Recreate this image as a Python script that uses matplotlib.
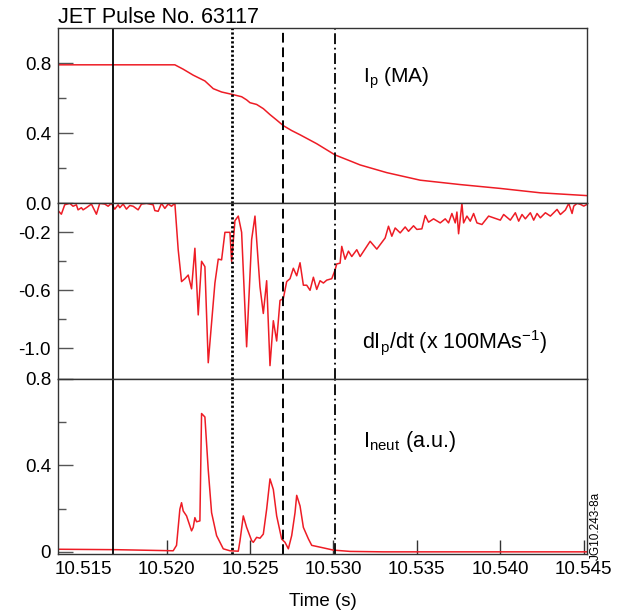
import matplotlib
matplotlib.use("Agg")
import matplotlib.pyplot as plt
from matplotlib.ticker import FixedLocator

plt.rcParams['font.family'] = ['Liberation Sans', 'DejaVu Sans']
plt.rcParams['mathtext.fontset'] = 'custom'
plt.rcParams['mathtext.rm'] = 'Liberation Sans'

# --- datos (JET pulso 63117) ---
t_ip = [10.5135, 10.5205, 10.5210, 10.5216, 10.5223, 10.5228, 10.5233, 10.5239,
        10.5245, 10.5248, 10.5250, 10.5254, 10.5258, 10.5262, 10.5266, 10.5270,
        10.5275, 10.5280, 10.5290, 10.5301, 10.5310, 10.5316, 10.5332, 10.5352,
        10.5376, 10.5400, 10.5424, 10.5452]
ip = [0.79, 0.79, 0.765, 0.731, 0.698, 0.654, 0.635, 0.622,
      0.608, 0.590, 0.574, 0.564, 0.540, 0.506, 0.475, 0.443,
      0.415, 0.391, 0.340, 0.276, 0.242, 0.219, 0.175, 0.132,
      0.107, 0.085, 0.060, 0.044]

t_dip = [10.5135, 10.5137, 10.5139, 10.5142, 10.5144, 10.5146, 10.5147, 10.5149,
         10.5150, 10.5152, 10.5155, 10.5158, 10.5160, 10.5163, 10.5165, 10.5167,
         10.5169, 10.5171, 10.5172, 10.5174, 10.5176, 10.5178, 10.5180, 10.5183,
         10.5185, 10.5188, 10.5192, 10.5193, 10.5195, 10.5197, 10.5199, 10.5201,
         10.5203, 10.5205,
         10.5207, 10.5209, 10.5211, 10.5213, 10.5215, 10.5217, 10.5219, 10.5221,
         10.5223, 10.5225, 10.5229, 10.5231, 10.5233, 10.5235, 10.5238, 10.5239,
         10.5241, 10.5243, 10.5245, 10.5248, 10.5251, 10.5253, 10.5256, 10.5258,
         10.5260, 10.5262, 10.5264, 10.5266, 10.5268, 10.5270, 10.5272, 10.5274,
         10.5276, 10.5278, 10.5280, 10.5282, 10.5284, 10.5286, 10.5288, 10.5290,
         10.5292, 10.5294, 10.5296, 10.5299, 10.5301, 10.5302, 10.5304, 10.5305,
         10.5307, 10.5309, 10.5311, 10.5314, 10.5316, 10.5320, 10.5322, 10.5326,
         10.5331, 10.5333, 10.5335, 10.5337, 10.5340, 10.5343, 10.5345, 10.5348,
         10.5350, 10.5353, 10.5355, 10.5357, 10.5360, 10.5364, 10.5367, 10.5369,
         10.5371, 10.5373, 10.5374, 10.5375, 10.5377, 10.5378, 10.5380, 10.5382,
         10.5384, 10.5386, 10.5389, 10.5393, 10.5400, 10.5402, 10.5406, 10.5409,
         10.5411, 10.5413, 10.5415, 10.5418, 10.5420, 10.5422, 10.5424, 10.5427,
         10.5430, 10.5434, 10.5436, 10.5439, 10.5441, 10.5443, 10.5444, 10.5446,
         10.5448, 10.5450, 10.5452]
dip = [-0.05, -0.075, -0.01, 0.0, -0.02, -0.01, -0.045, -0.03,
       -0.045, -0.03, -0.005, -0.075, 0.0, -0.005, -0.02, 0.0,
       -0.04, -0.01, -0.03, -0.005, -0.04, -0.015, -0.02, -0.045,
       -0.005, 0.0, -0.01, -0.05, -0.055, 0.0, -0.035, -0.005,
       -0.02, 0.0,
       -0.32, -0.54, -0.52, -0.495, -0.59, -0.31, -0.77, -0.40,
       -0.437, -1.10, -0.55, -0.385, -0.39, -0.20, -0.20, -0.40,
       -0.12, -0.088, -0.20, -0.99, -0.25, -0.088, -0.576, -0.76,
       -0.534, -1.12, -0.81, -0.95, -0.67, -0.657, -0.54, -0.52,
       -0.448, -0.50, -0.41, -0.565, -0.565, -0.60, -0.51, -0.594,
       -0.534, -0.55, -0.53, -0.52, -0.46, -0.418, -0.413, -0.297,
       -0.386, -0.33, -0.367, -0.32, -0.367, -0.297, -0.262, -0.316,
       -0.239, -0.158, -0.227, -0.17, -0.204, -0.163, -0.193, -0.155,
       -0.18, -0.176, -0.084, -0.13, -0.107, -0.135, -0.107, -0.135,
       -0.07, -0.135, -0.06, -0.21, 0.0, -0.135, -0.088, -0.123,
       -0.07, -0.135, -0.146, -0.088, -0.116, -0.077, -0.116, -0.065,
       -0.123, -0.077, -0.107, -0.065, -0.116, -0.07, -0.1, -0.065,
       -0.088, -0.042, -0.077, -0.046, 0.0, -0.07, -0.019, 0.0,
       -0.007, -0.019, -0.007]

t_neut = [10.5135, 10.5170, 10.5204, 10.5206, 10.5208, 10.5209, 10.5210, 10.5212,
          10.5215, 10.5216, 10.5217, 10.5218, 10.5220, 10.5221, 10.5223, 10.5225,
          10.5227, 10.5230, 10.5234, 10.5238, 10.5243, 10.5244, 10.5246, 10.5248,
          10.5251, 10.5252, 10.5254, 10.5256, 10.5258, 10.5260, 10.5262, 10.5264,
          10.5266, 10.5269, 10.5271, 10.5273, 10.5275, 10.5277, 10.5278, 10.5280,
          10.5282, 10.5285, 10.5287, 10.5293, 10.5300, 10.5310, 10.5330, 10.5452]
neut = [0.012, 0.01, 0.005, 0.03, 0.197, 0.227, 0.189, 0.166,
        0.097, 0.113, 0.158, 0.139, 0.143, 0.639, 0.623, 0.379,
        0.181, 0.075, 0.014, 0.005, 0.003, 0.05, 0.166, 0.113,
        0.052, 0.044, 0.067, 0.063, 0.082, 0.197, 0.337, 0.288,
        0.166, 0.059, 0.044, 0.014, 0.075, 0.181, 0.261, 0.212,
        0.113, 0.06, 0.03, 0.02, 0.008, 0.002, 0.0, 0.0]

# instantes marcados con lineas verticales
t_marcas = [10.5168, 10.5239, 10.5270, 10.5301]
estilos = ['-', (0, (0.8, 0.8)), (0, (5, 2.5)), (0, (6, 2, 1, 2))]
grosores = [1.3, 2.0, 1.4, 1.3]

x_ticks = [10.515, 10.520, 10.525, 10.530, 10.535, 10.540, 10.545]
x_labels = ['10.515', '10.520', '10.525', '10.530', '10.535', '10.540', '10.545']

rojo = '#ee1c25'

fig, (ax1, ax2, ax3) = plt.subplots(3, 1, sharex=True, figsize=(6.18, 6.14), dpi=100)
fig.subplots_adjust(left=0.0939, right=0.950, bottom=0.0977, top=0.9544, hspace=0)

ax1.plot(t_ip, ip, color=rojo, lw=1.1)
ax2.plot(t_dip, dip, color=rojo, lw=1.1)
ax3.plot(t_neut, neut, color=rojo, lw=1.1)

for ax in (ax1, ax2, ax3):
    for t, ls, lw in zip(t_marcas, estilos, grosores):
        ax.axvline(t, color='black', lw=lw, linestyle=ls)
    for s in ax.spines.values():
        s.set_color('#333333')
        s.set_linewidth(1.0)
    ax.tick_params(axis='y', which='major', direction='in', length=11, width=1,
                   color='#555555', labelsize=13.5, pad=5)
    ax.tick_params(axis='y', which='minor', direction='in', length=6, width=1,
                   color='#555555')
    ax.tick_params(axis='x', which='both', length=0)

ax1.set_xlim(10.5135, 10.5452)

ax1.set_ylim(0, 1.0)
ax1.set_yticks([0.0, 0.4, 0.8])
ax1.set_yticklabels(['0.0', '0.4', '0.8'])
ax1.yaxis.set_minor_locator(FixedLocator([0.2, 0.6]))

ax2.set_ylim(-1.21, 0)
ax2.set_yticks([-1.0, -0.6, -0.2])
ax2.set_yticklabels(['-1.0', '-0.6', '-0.2'])
ax2.yaxis.set_minor_locator(FixedLocator([-0.8, -0.4]))

ax3.set_ylim(-0.01, 0.8)
ax3.set_yticks([0.0, 0.4, 0.8])
ax3.set_yticklabels(['0', '0.4', '0.8'])
ax3.yaxis.set_minor_locator(FixedLocator([0.2, 0.6]))

ax3.set_xticks(x_ticks)
ax3.set_xticklabels(x_labels)
ax3.tick_params(axis='x', which='major', direction='in', length=10, width=1,
                color='#333333', labelsize=13.5, pad=5)
# en el original no se ve la marca de 10.515
ax3.xaxis.get_major_ticks()[0].tick1line.set_visible(False)
ax3.set_xlabel('Time (s)', fontsize=13.5, labelpad=11)

ax1.set_title('JET Pulse No. 63117', loc='left', fontsize=15.5, pad=2)

ax1.text(0.577, 0.69, r'I$_{\mathregular{p}}$ (MA)', transform=ax1.transAxes,
         fontsize=15, va='baseline')
ax2.text(0.574, 0.174, r'dI$_{\mathregular{p}}$/dt (x 100MAs$^{\mathregular{-1}}$)',
         transform=ax2.transAxes, fontsize=15.5, va='baseline')
ax3.text(0.577, 0.609, r'I$_{\mathregular{neut}}$ (a.u.)', transform=ax3.transAxes,
         fontsize=15.5, va='baseline')

fig.text(596 / 618, 1 - 560 / 614, 'JG10.243-8a', rotation=90, fontsize=8.5,
         ha='center', va='bottom')

plt.savefig('out.png', dpi=100)
